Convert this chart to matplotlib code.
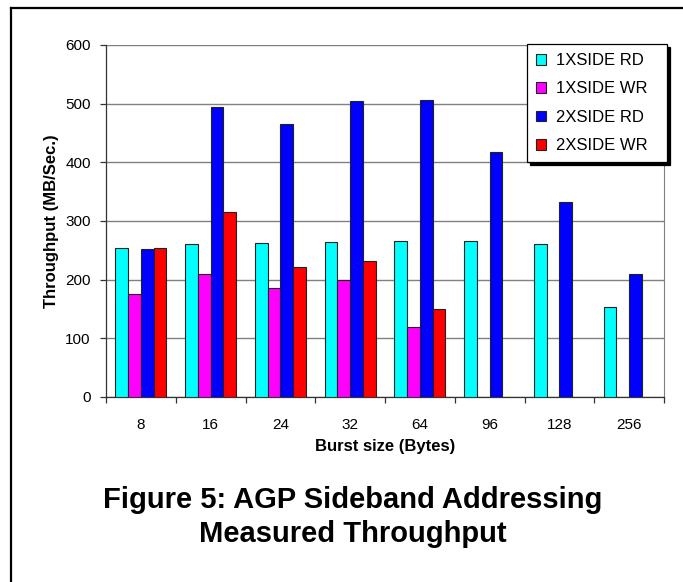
import numpy as np
import matplotlib
matplotlib.use("Agg")
import matplotlib.pyplot as plt
from matplotlib.lines import Line2D

plt.rcParams['font.family'] = ['Liberation Sans', 'DejaVu Sans']

# data
burst_sizes = ['8', '16', '24', '32', '64', '96', '128', '256']
series_names = ['1XSIDE RD', '1XSIDE WR', '2XSIDE RD', '2XSIDE WR']
rd_1x = [254, 261, 263, 264, 266, 266, 260, 154]
wr_1x = [175, 209, 185, 200, 120, np.nan, np.nan, np.nan]
rd_2x = [252, 494, 466, 505, 506, 418, 332, 210]
wr_2x = [254, 316, 221, 231, 150, np.nan, np.nan, np.nan]
colors = ['#00FFFF', '#FF00FF', '#0000FF', '#FF0000']

fig = plt.figure(figsize=(6.83, 5.82), dpi=100)
ax = fig.add_axes([106 / 683, 1 - 397 / 582, 558 / 683, 352 / 582])

x = np.arange(len(burst_sizes))
w = 0.182
for i, (vals, name) in enumerate(zip([rd_1x, wr_1x, rd_2x, wr_2x], series_names)):
    ax.bar(x + (i - 1.5) * w, vals, width=w, color=colors[i], edgecolor='#222222',
           linewidth=0.8, label=name, zorder=3)

ax.set_xlim(-0.5, len(burst_sizes) - 0.5)
ax.set_ylim(0, 600)
ax.set_yticks(range(0, 601, 100))
ax.set_xticks(x)
ax.set_xticklabels(burst_sizes)
ax.set_xticks(np.arange(-0.5, len(burst_sizes)), minor=True)
ax.tick_params(axis='x', which='major', length=0, pad=15, labelsize=11)
ax.tick_params(axis='x', which='minor', length=4, width=0.9, direction='out', color='#333333')
ax.tick_params(axis='y', length=4, width=0.9, direction='out', pad=7, labelsize=11, color='#333333')

ax.grid(axis='y', color='#808080', linewidth=1.0, zorder=0)
ax.spines['top'].set_visible(False)
ax.spines['right'].set_color('#808080')
ax.spines['left'].set_color('#333333')
ax.spines['bottom'].set_color('#333333')
ax.spines['left'].set_linewidth(0.9)
ax.spines['bottom'].set_linewidth(0.9)

ax.set_ylabel('Throughput (MB/Sec.)', fontsize=12, fontweight='bold')
ax.yaxis.set_label_coords(-0.084, 0.5)
ax.set_xlabel('Burst size (Bytes)', fontsize=12, fontweight='bold')
ax.xaxis.set_label_coords(0.5, -0.119)

leg = ax.legend(loc='upper left', bbox_to_anchor=(421 / 558, 1 - 119 / 352 + 0.003, 140 / 558, 119 / 352),
                mode='expand', fontsize=12,
                frameon=True, fancybox=False, shadow={'color': 'black', 'alpha': 1},
                handlelength=0.6, handleheight=0.6, handletextpad=0.6,
                labelspacing=0.8, borderpad=0.55, borderaxespad=0)
leg.get_frame().set_edgecolor('black')
leg.get_frame().set_linewidth(0.9)
leg.set_zorder(5)

fig.text(353 / 683, 1 - 486 / 582, 'Figure 5: AGP Sideband Addressing\nMeasured Throughput',
         ha='center', va='top', fontsize=21, fontweight='bold', linespacing=1.25)

# page border (top and left edges)
fig.add_artist(Line2D([11 / 683, 11 / 683], [0, 1 - 8 / 582], color='black', linewidth=1.6,
                      transform=fig.transFigure))
fig.add_artist(Line2D([11 / 683, 1], [1 - 8 / 582, 1 - 8 / 582], color='black', linewidth=1.6,
                      transform=fig.transFigure))

fig.savefig('out.png', dpi=100)
